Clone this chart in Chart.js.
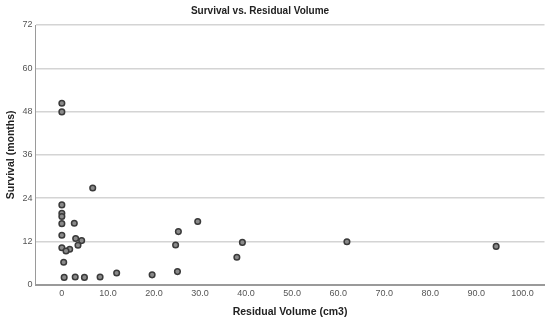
<!DOCTYPE html>
<html>
<head>
<meta charset="utf-8">
<script src="https://cdn.jsdelivr.net/npm/chart.js@4"></script>
<style>
  html, body { margin: 0; padding: 0; background: #fff; }
</style>
</head>
<body>
<canvas id="chart" width="550" height="326"></canvas>
<script>
const residualVolume = [0, 0, 6.7, 0, 0, 0, 0, 2.7, 0, 3.0, 4.3, 3.5, 0, 1.7, 0.9, 0.4, 0.5, 2.9, 4.9, 8.3, 11.9, 19.6, 25.1, 24.7, 25.3, 29.5, 38.0, 39.2, 61.9, 94.3];
const survival = [50.3, 47.9, 26.8, 22.1, 19.8, 18.9, 16.9, 17.0, 13.7, 12.8, 12.2, 10.9, 10.2, 9.8, 9.3, 6.2, 2.0, 2.1, 2.0, 2.1, 3.2, 2.7, 3.6, 11.0, 14.7, 17.5, 7.6, 11.7, 11.9, 10.6];
const xTicks = [0, 10, 20, 30, 40, 50, 60, 70, 80, 90, 100];
const yTicks = [0, 12, 24, 36, 48, 60, 72];

document.addEventListener('DOMContentLoaded', function() {
    const points = residualVolume.map((v, i) => ({ x: v, y: survival[i] }));

    const titlePlugin = {
        id: 'topTitle',
        afterDraw(chart) {
            const ctx = chart.ctx;
            ctx.save();
            ctx.font = 'bold 10px "Liberation Sans", Arial, sans-serif';
            ctx.fillStyle = '#222';
            ctx.textAlign = 'center';
            ctx.textBaseline = 'middle';
            ctx.fillText('Survival vs. Residual Volume', 260, 11);
            ctx.restore();
        }
    };

    new Chart(document.getElementById('chart'), {
        type: 'scatter',
        data: {
            datasets: [{
                data: points,
                backgroundColor: '#8a8a8a',
                borderColor: '#3a3a3a',
                borderWidth: 1.5,
                pointRadius: 2.8
            }]
        },
        plugins: [titlePlugin],
        options: {
            responsive: false,
            animation: false,
            devicePixelRatio: 1,
            layout: { padding: { top: 25, right: 5, left: 5, bottom: 0 } },
            plugins: {
                legend: { display: false },
                tooltip: { enabled: false }
            },
            scales: {
                x: {
                    type: 'linear',
                    min: -5.7,
                    max: 104.8,
                    afterBuildTicks: axis => { axis.ticks = xTicks.map(v => ({ value: v })); },
                    grid: { display: false, drawTicks: false },
                    border: { color: '#9a9a9a', width: 2 },
                    ticks: {
                        color: '#555',
                        font: { family: '"Liberation Sans", Arial', size: 9 },
                        padding: 4,
                        autoSkip: false,
                        maxRotation: 0,
                        callback: v => v === 0 ? '0' : v.toFixed(1)
                    },
                    title: {
                        display: true,
                        text: 'Residual Volume (cm3)',
                        color: '#222',
                        font: { family: '"Liberation Sans", Arial', size: 10.5, weight: 'bold' },
                        padding: { top: 2, bottom: 8 }
                    }
                },
                y: {
                    min: 0,
                    max: 72,
                    afterBuildTicks: axis => { axis.ticks = yTicks.map(v => ({ value: v })); },
                    grid: {
                        color: ctx => ctx.tick && ctx.tick.value === 0 ? 'rgba(0,0,0,0)' : '#d4d4d4',
                        lineWidth: 1.5,
                        drawTicks: false
                    },
                    border: { color: '#9a9a9a', width: 1 },
                    ticks: {
                        color: '#555',
                        font: { family: '"Liberation Sans", Arial', size: 9 },
                        padding: 3,
                        autoSkip: false
                    },
                    title: {
                        display: true,
                        text: 'Survival (months)',
                        color: '#222',
                        font: { family: '"Liberation Sans", Arial', size: 10.5, weight: 'bold' },
                        padding: { top: 0, bottom: 2 }
                    }
                }
            }
        }
    });
});
</script>
</body>
</html>
